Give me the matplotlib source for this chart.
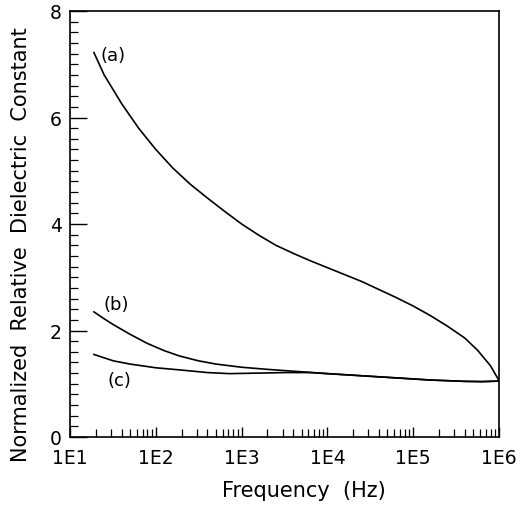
import matplotlib
matplotlib.use("Agg")
import matplotlib.pyplot as plt
from matplotlib.ticker import FixedLocator, LogLocator, NullFormatter

# Data
freq_a = [19, 25, 40, 63, 100, 158, 251, 398, 631, 1000, 1585, 2512, 3981, 6310,
          10000, 15850, 25120, 39810, 63100, 100000, 158500, 251200, 398100, 562000,
          794000, 1000000]
val_a = [7.22, 6.80, 6.26, 5.80, 5.40, 5.05, 4.75, 4.49, 4.24, 4.00, 3.79, 3.60,
         3.45, 3.31, 3.18, 3.05, 2.92, 2.77, 2.62, 2.46, 2.28, 2.08, 1.86, 1.63,
         1.34, 1.06]

freq_b = [19, 25, 32, 50, 79, 126, 190, 316, 500, 1000, 2000, 4470, 10000, 25100,
          63100, 158500, 398100, 631000, 1000000]
val_b = [2.35, 2.22, 2.11, 1.93, 1.76, 1.62, 1.52, 1.43, 1.37, 1.31, 1.27, 1.23,
         1.19, 1.15, 1.11, 1.07, 1.045, 1.04, 1.05]

freq_c = [19, 32, 50, 100, 190, 400, 720, 1585, 3160, 6310, 10000, 25100,
          63100, 158500, 398100, 631000, 1000000]
val_c = [1.55, 1.43, 1.37, 1.30, 1.26, 1.21, 1.19, 1.20, 1.21, 1.21, 1.19, 1.15,
         1.11, 1.07, 1.045, 1.04, 1.05]

curve_labels = ["(a)", "(b)", "(c)"]
label_pos_x = [32, 35, 38]
label_pos_y = [7.17, 2.50, 1.07]

xticks = [1e1, 1e2, 1e3, 1e4, 1e5, 1e6]
xticklabels = ["1E1", "1E2", "1E3", "1E4", "1E5", "1E6"]
yticks = [0, 2, 4, 6, 8]
yticklabels = ["0", "2", "4", "6", "8"]

fig = plt.figure(figsize=(5.31, 5.10), dpi=100)
ax = fig.add_axes([70/531, 72/510, 429/531, 426/510])

for f, v in [(freq_a, val_a), (freq_b, val_b), (freq_c, val_c)]:
    ax.plot(f, v, color="black", lw=1.2)

for lab, lx, ly in zip(curve_labels, label_pos_x, label_pos_y):
    ax.text(lx, ly, lab, fontsize=13, ha="center", va="center", color="black")

ax.set_xscale("log")
ax.set_xlim(1e1, 1e6)
ax.set_ylim(0, 8)
ax.set_xticks(xticks)
ax.set_xticklabels(xticklabels, fontsize=13.5)
ax.xaxis.set_minor_locator(LogLocator(base=10, subs=range(2, 10), numticks=20))
ax.xaxis.set_minor_formatter(NullFormatter())
ax.set_yticks(yticks)
ax.set_yticklabels(yticklabels, fontsize=13.5)
ax.yaxis.set_minor_locator(FixedLocator([i * 0.2 for i in range(41)]))

ax.tick_params(axis="both", which="major", direction="in", length=12, width=1.0)
ax.tick_params(axis="y", which="major", pad=6)
ax.tick_params(axis="both", which="minor", direction="in", length=6, width=0.9)
ax.tick_params(axis="x", which="major", length=7, pad=8)
ax.tick_params(top=False, right=False)

for s in ax.spines.values():
    s.set_linewidth(1.2)

ax.set_xlabel("Frequency  (Hz)", fontsize=15)
ax.set_ylabel("Normalized  Relative  Dielectric  Constant", fontsize=15)
ax.xaxis.set_label_coords(0.545, -0.102)
ax.yaxis.set_label_coords(-0.09, 0.455)

fig.savefig("out.png", dpi=100)
